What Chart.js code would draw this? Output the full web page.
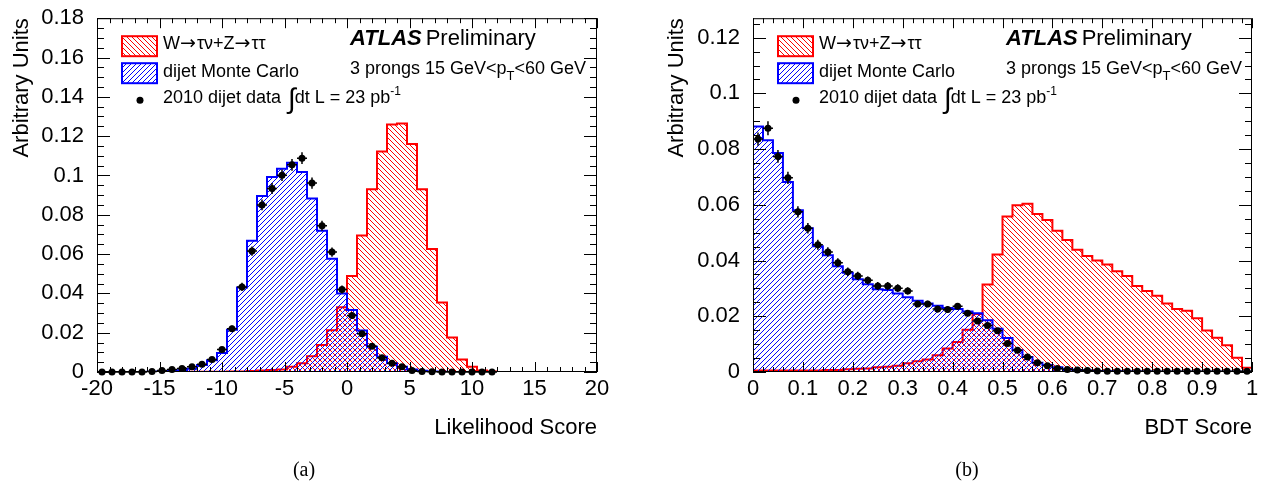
<!DOCTYPE html>
<html>
<head>
<meta charset="utf-8">
<script src="https://cdn.jsdelivr.net/npm/chart.js@4.4.1/dist/chart.umd.min.js"></script>
<style>
  body { margin: 0; background: #fff; width: 1268px; height: 489px; overflow: hidden; position: relative; }
  .panel { position: absolute; top: 0; width: 634px; height: 489px; }
  .caption { position: absolute; top: 458px; font-family: "Liberation Serif", "Times New Roman", serif; font-size: 20px; color: #000; transform: translateX(-50%); }
</style>
</head>
<body>
<div class="panel" style="left:0"><canvas id="lh"></canvas></div>
<div class="panel" style="left:634px"><canvas id="bdt"></canvas></div>
<div class="caption" style="left:304px">(a)</div>
<div class="caption" style="left:967px">(b)</div>
<script>
"use strict";

// likelihood score, 50 bins of 0.8 between -20 and 20
var lhMin = -20, lhBin = 0.8;
var lhSignal = [0, 0, 0, 0, 0, 0, 0, 0, 0.0001, 0.0001,
  0.0001, 0.0001, 0.0001, 0.0002, 0.0003, 0.0005, 0.0007, 0.001, 0.0013, 0.0027,
  0.0044, 0.008, 0.0137, 0.0212, 0.0329, 0.0489, 0.0695, 0.093, 0.1122, 0.1259,
  0.1264, 0.116, 0.093, 0.0626, 0.0353, 0.0175, 0.0064, 0.0027, 0.0008, 0.0003,
  0, 0, 0, 0, 0, 0, 0, 0, 0, 0];
var lhDijetMC = [0, 0, 0, 0, 0, 0.0001, 0.0002, 0.0005, 0.0009, 0.0017,
  0.0035, 0.006, 0.0097, 0.0215, 0.043, 0.0668, 0.0895, 0.0992, 0.1034, 0.1065,
  0.1018, 0.0883, 0.0719, 0.0576, 0.040, 0.0316, 0.0211, 0.0128, 0.0078, 0.0044,
  0.0027, 0.0013, 0.0006, 0.0003, 0.0001, 0, 0, 0, 0, 0,
  0, 0, 0, 0, 0, 0, 0, 0, 0, 0];
var lhData = [0, 0, 0, 0, 0, 0.0002, 0.0007, 0.0013, 0.0018, 0.0027,
  0.004, 0.0064, 0.0114, 0.022, 0.0433, 0.0615, 0.085, 0.0934, 0.1001, 0.1054,
  0.1088, 0.0961, 0.0744, 0.061, 0.042, 0.0287, 0.0195, 0.0131, 0.0072, 0.0044,
  0.0027, 0.0008, 0.0002, 0.0001, 0, 0, 0, 0, 0, 0];
var lhDataErr = [0.0001, 0.0001, 0.0001, 0.0001, 0.0001, 0.0002, 0.0003, 0.0004, 0.0005, 0.0006,
  0.0007, 0.0009, 0.0012, 0.0016, 0.0021, 0.0024, 0.0027, 0.0028, 0.0029, 0.003,
  0.003, 0.0029, 0.0026, 0.0024, 0.002, 0.0017, 0.0014, 0.0012, 0.0009, 0.0007,
  0.0005, 0.0003, 0.0002, 0.0001, 0.0001, 0.0001, 0.0001, 0.0001, 0.0001, 0.0001];

// BDT score, 50 bins of 0.02 between 0 and 1
var bdtMin = 0, bdtBin = 0.02;
var bdtSignal = [0.0005, 0.0005, 0.0005, 0.0005, 0.0005, 0.0005, 0.0005, 0.0007, 0.0007, 0.001,
  0.0012, 0.0013, 0.0017, 0.0019, 0.0022, 0.0031, 0.0039, 0.0045, 0.006, 0.0084,
  0.0108, 0.0152, 0.0208, 0.0314, 0.0422, 0.0558, 0.0599, 0.0604, 0.0567, 0.0546,
  0.0507, 0.0474, 0.0439, 0.0416, 0.04, 0.0386, 0.0362, 0.0345, 0.0309, 0.0291,
  0.0274, 0.0246, 0.0226, 0.022, 0.0193, 0.0149, 0.0123, 0.0096, 0.0051, 0.0015];
var bdtDijetMC = [0.0881, 0.0832, 0.0786, 0.0682, 0.0581, 0.0516, 0.0451, 0.0419, 0.038, 0.0356,
  0.0333, 0.0315, 0.0297, 0.0294, 0.0282, 0.0268, 0.0256, 0.0246, 0.0238, 0.023,
  0.0226, 0.0217, 0.0211, 0.0186, 0.0155, 0.0122, 0.0078, 0.0054, 0.0033, 0.0025,
  0.0017, 0.0011, 0.0007, 0.0005, 0.0004, 0.0003, 0.0003, 0.0002, 0.0002, 0.0002,
  0.0001, 0.0001, 0.0001, 0.0001, 0.0001, 0.0001, 0.0001, 0.0001, 0.0001, 0.0001];
var bdtData = [0.0836, 0.0875, 0.0774, 0.0697, 0.0575, 0.0516, 0.0457, 0.0431, 0.0392, 0.036,
  0.0345, 0.0329, 0.0309, 0.0309, 0.0301, 0.0291, 0.0244, 0.0244, 0.0226, 0.0224,
  0.0236, 0.0211, 0.0183, 0.0167, 0.0148, 0.0102, 0.0078, 0.0054, 0.0033, 0.0022,
  0.0013, 0.0009, 0.0007, 0.0005, 0.0004, 0.0003, 0.0003, 0.0003, 0.0003, 0.0003,
  0.0003, 0.0003, 0.0003, 0.0003, 0.0003, 0.0003, 0.0003, 0.0003, 0.0003, 0.0003];
var bdtDataErr = [0.0024, 0.0025, 0.0023, 0.0022, 0.002, 0.0019, 0.0018, 0.0017, 0.0016, 0.0015,
  0.0015, 0.0014, 0.0014, 0.0014, 0.0014, 0.0013, 0.0012, 0.0012, 0.0012, 0.0012,
  0.0012, 0.0011, 0.0011, 0.001, 0.001, 0.0008, 0.0007, 0.0006, 0.0005, 0.0004,
  0.0003, 0.0003, 0.0003, 0.0002, 0.0002, 0.0002, 0.0002, 0.0002, 0.0002, 0.0002,
  0.0002, 0.0002, 0.0002, 0.0002, 0.0002, 0.0002, 0.0002, 0.0002, 0.0002, 0.0002];

var legendLabels = ["W\u2192\u03c4\u03bd+Z\u2192\u03c4\u03c4", "dijet Monte Carlo", "2010 dijet data"];

var SANS = '"Liberation Sans", Arial, Helvetica, sans-serif';
var F18 = "18px " + SANS, ARROW = '19px "DejaVu Sans", sans-serif';
Chart.defaults.font.family = SANS;
Chart.defaults.color = "#000";

// 1px diagonal hatching like ROOT fill styles 3004/3005
var hatch = function (color, rising) {
  var c = document.createElement("canvas");
  c.width = c.height = 5;
  var g = c.getContext("2d");
  g.fillStyle = color;
  for (var i = 0; i < 5; i++) g.fillRect(rising ? 4 - i : i, i, 1, 1);
  return g.createPattern(c, "repeat");
};
var redHatch = hatch("#ff0000", false);
var blueHatch = hatch("#0000ff", true);

// outline of a histogram as points for a stepped line
var histPoints = function (min, bin, vals) {
  var pts = [{ x: min, y: 0 }];
  vals.forEach(function (v, i) { pts.push({ x: min + i * bin, y: v }); });
  var end = min + vals.length * bin;
  pts.push({ x: end, y: vals[vals.length - 1] });
  pts.push({ x: end, y: 0 });
  return pts;
};
var centrePoints = function (min, bin, vals) {
  return vals.map(function (v, i) { return { x: min + (i + 0.5) * bin, y: v }; });
};

// text made of pieces: [text, font, dy, extra gap]
var drawRuns = function (ctx, x, y, runs) {
  runs.forEach(function (r) {
    ctx.font = r[1];
    ctx.fillText(r[0], x, y + (r[2] || 0));
    x += ctx.measureText(r[0]).width + (r[3] || 0);
  });
  return x;
};

var drawTicks = function (ctx, scale, o, horizontal, a) {
  var n = Math.round((o.max - o.min) / o.minor);
  for (var i = 0; i <= n; i++) {
    var v = o.min + i * o.minor;
    var r = v / o.major;
    var len = Math.abs(r - Math.round(r)) < 1e-6 ? o.bigLen : o.smallLen;
    var p = Math.round(scale.getPixelForValue(v)) + 0.5;
    ctx.beginPath();
    if (horizontal) {
      ctx.moveTo(p, a.bottom); ctx.lineTo(p, a.bottom - len);
      ctx.moveTo(p, a.top); ctx.lineTo(p, a.top + len);
    } else {
      ctx.moveTo(a.left, p); ctx.lineTo(a.left + len, p);
      ctx.moveTo(a.right, p); ctx.lineTo(a.right - len, p);
    }
    ctx.stroke();
  }
};

var decor = {
  id: "decor",
  afterDatasetsDraw: function (chart, args, opts) {
    var ctx = chart.ctx, a = chart.chartArea;
    var xs = chart.scales.x, ys = chart.scales.y;
    ctx.save();

    // error bars of the data points
    ctx.strokeStyle = "#000";
    ctx.lineWidth = 1.5;
    chart.data.datasets.forEach(function (ds) {
      if (!ds.yErr) return;
      ds.data.forEach(function (pt, i) {
        var x = xs.getPixelForValue(pt.x), y = ys.getPixelForValue(pt.y);
        ctx.beginPath();
        ctx.moveTo(xs.getPixelForValue(pt.x - ds.halfBin), y);
        ctx.lineTo(xs.getPixelForValue(pt.x + ds.halfBin), y);
        ctx.moveTo(x, ys.getPixelForValue(pt.y + ds.yErr[i]));
        ctx.lineTo(x, ys.getPixelForValue(Math.max(pt.y - ds.yErr[i], 0)));
        ctx.stroke();
      });
    });

    // frame with ticks pointing inwards
    ctx.lineWidth = 1;
    ctx.strokeRect(a.left + 0.5, a.top + 0.5, a.right - a.left - 1, a.bottom - a.top - 1);
    drawTicks(ctx, xs, opts.xTicks, true, a);
    drawTicks(ctx, ys, opts.yTicks, false, a);

    // legend
    var lx = a.left + 25, tx = a.left + 66;
    ctx.lineWidth = 2;
    ctx.fillStyle = redHatch;
    ctx.fillRect(lx, a.top + 18, 35, 20);
    ctx.strokeStyle = "#ff0000";
    ctx.strokeRect(lx, a.top + 18, 35, 20);
    ctx.fillStyle = blueHatch;
    ctx.fillRect(lx, a.top + 45, 35, 20);
    ctx.strokeStyle = "#0000ff";
    ctx.strokeRect(lx, a.top + 45, 35, 20);
    ctx.fillStyle = "#000";
    ctx.beginPath();
    ctx.arc(a.left + 43, a.top + 82, 3.5, 0, Math.PI * 2);
    ctx.fill();

    ctx.textBaseline = "middle";
    ctx.textAlign = "left";
    drawRuns(ctx, tx, a.top + 26, [
      ["W", F18], ["\u2192", ARROW, 0, 1], ["\u03c4\u03bd+Z", F18], ["\u2192", ARROW, 0, 1], ["\u03c4\u03c4", F18]
    ]);
    ctx.font = F18;
    ctx.fillText(legendLabels[1], tx, a.top + 54);
    drawRuns(ctx, tx, a.top + 80, [
      [legendLabels[2] + " ", F18, 0, 2],
      ["\u222b", "28px " + SANS, 2, -1],
      ["dt L = 23 pb", F18],
      ["-1", "12px " + SANS, -7]
    ]);

    // experiment label and selection
    var ax = a.left + 253;
    drawRuns(ctx, ax, a.top + 21, [
      ["ATLAS", "italic bold 22px " + SANS, 0, 4],
      ["Preliminary", "22px " + SANS]
    ]);
    drawRuns(ctx, ax, a.top + 51, [
      ["3 prongs 15 GeV<p", F18],
      ["T", "13px " + SANS, 7],
      ["<60 GeV", F18]
    ]);

    ctx.restore();
  }
};

var fmt = function (v) { return String(Math.round(v * 1000) / 1000); };

var makePanel = function (id, p) {
  return new Chart(document.getElementById(id), {
    type: "line",
    data: {
      datasets: [
        {
          label: legendLabels[2],
          data: centrePoints(p.min, p.bin, p.data),
          yErr: p.err,
          halfBin: p.bin / 2,
          showLine: false,
          pointRadius: 3.5,
          pointBackgroundColor: "#000",
          pointBorderWidth: 0,
          clip: false,
          order: 0
        },
        {
          label: legendLabels[1],
          data: histPoints(p.min, p.bin, p.mc),
          stepped: true,
          borderColor: "#0000ff",
          borderWidth: 2,
          backgroundColor: blueHatch,
          fill: "origin",
          pointRadius: 0,
          order: 1
        },
        {
          label: legendLabels[0],
          data: histPoints(p.min, p.bin, p.signal),
          stepped: true,
          borderColor: "#ff0000",
          borderWidth: 2,
          backgroundColor: redHatch,
          fill: "origin",
          pointRadius: 0,
          order: 2
        }
      ]
    },
    options: {
      responsive: true,
      maintainAspectRatio: false,
      animation: false,
      events: [],
      layout: { padding: { left: 0, top: 14, right: p.padRight, bottom: 0 } },
      plugins: {
        legend: { display: false },
        tooltip: { enabled: false },
        decor: { xTicks: p.xTicks, yTicks: p.yTicks }
      },
      scales: {
        x: {
          type: "linear",
          min: p.xTicks.min,
          max: p.xTicks.max,
          grid: { display: false },
          border: { display: false },
          ticks: { stepSize: p.xTicks.major, autoSkip: false, maxRotation: 0, includeBounds: false, padding: -4, font: { size: 22 }, callback: fmt },
          title: { display: true, text: p.xTitle, align: "end", font: { size: 22 }, padding: { top: 0, bottom: 48 } },
          afterFit: function (s) { s.height = 117; }
        },
        y: {
          type: "linear",
          min: 0,
          max: p.yTicks.max,
          grid: { display: false },
          border: { display: false },
          ticks: { stepSize: p.yTicks.major, includeBounds: false, padding: 5, font: { size: 22 }, callback: fmt },
          title: { display: true, text: "Arbitrary Units", align: "end", font: { size: 22 }, padding: { top: p.yTitlePad, bottom: 0 } },
          afterFit: function (s) { s.width = p.yWidth; }
        }
      }
    },
    plugins: [decor]
  });
};

makePanel("lh", {
  min: lhMin, bin: lhBin, signal: lhSignal, mc: lhDijetMC, data: lhData, err: lhDataErr,
  xTitle: "Likelihood Score",
  xTicks: { min: -20, max: 20, major: 5, minor: 1, bigLen: 10, smallLen: 5 },
  yTicks: { min: 0, max: 0.18, major: 0.02, minor: 0.005, bigLen: 13, smallLen: 7 },
  yWidth: 97, yTitlePad: 9, padRight: 37
});

makePanel("bdt", {
  min: bdtMin, bin: bdtBin, signal: bdtSignal, mc: bdtDijetMC, data: bdtData, err: bdtDataErr,
  xTitle: "BDT Score",
  xTicks: { min: 0, max: 1, major: 0.1, minor: 0.02, bigLen: 10, smallLen: 5 },
  yTicks: { min: 0, max: 0.127, major: 0.02, minor: 0.005, bigLen: 13, smallLen: 7 },
  yWidth: 119, yTitlePad: 30, padRight: 16
});
</script>
</body>
</html>
